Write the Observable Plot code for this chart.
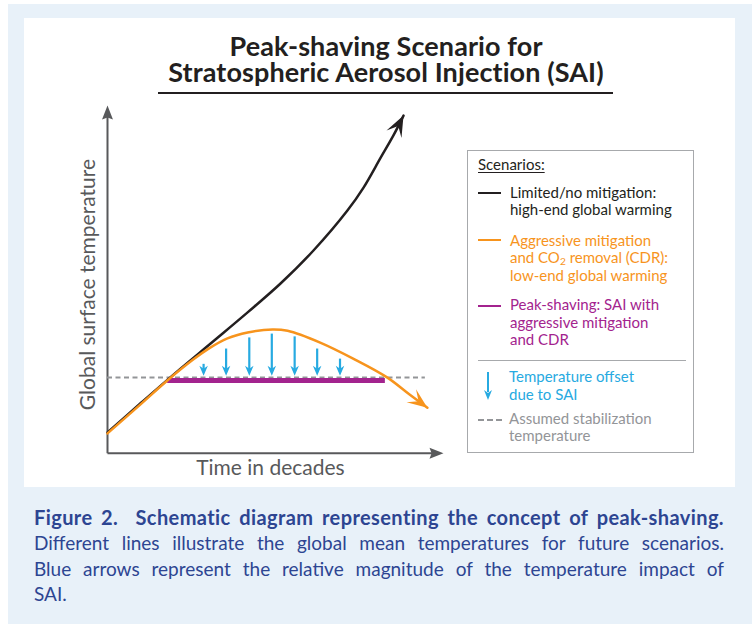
<!DOCTYPE html>
<html>
<head>
<meta charset="utf-8">
<script src="https://cdn.jsdelivr.net/npm/d3@7"></script>
<script src="https://cdn.jsdelivr.net/npm/@observablehq/plot@0.6"></script>
<style>
html,body{margin:0;padding:0;background:#fff;}
body{width:752px;height:624px;position:relative;overflow:hidden;font-family:Lato,"Open Sans",sans-serif;}
#outer{position:absolute;left:8px;top:4px;width:744px;height:620px;background:#e8f1f9;}
#panel{position:absolute;left:24px;top:18px;width:711px;height:469px;background:#fff;}
.title{position:absolute;left:136px;width:500px;height:26px;text-align:center;font-size:27px;font-weight:700;color:#231f20;line-height:26px;letter-spacing:0.1px;white-space:nowrap;}
#titleRule{position:absolute;left:158px;top:92px;width:455px;height:2px;background:#231f20;}
#chart{position:absolute;left:24px;top:95px;}
#legend{position:absolute;left:467px;top:150px;width:225px;height:301px;border:1px solid #a7a9ac;background:#fff;}
.lg{position:absolute;font-size:15px;line-height:17.5px;height:17.5px;white-space:nowrap;}
.sw{position:absolute;height:0;}
sub{font-size:0.68em;vertical-align:-0.18em;line-height:0;}
.cap{position:absolute;left:34px;width:690px;font-size:19px;line-height:25px;color:#2d4592;text-align:justify;text-align-last:justify;white-space:nowrap;}
.cap b{font-size:20px;letter-spacing:0.4px;}
</style>
</head>
<body>
<div id="outer"></div>
<div id="panel"></div>
<div id="titleBox"></div>
<div id="titleRule"></div>
<div id="chart"></div>
<div id="legend"></div>
<div id="caption"></div>
<script>
// ---------- data (schematic values) ----------
const axisMax = 10;
const noMitigationX = [0, 1.0, 2.0, 3.15, 4.17, 5.15, 6.13, 7.14, 7.62, 8.13, 8.51, 8.81];
const noMitigationY = [0.6, 1.45, 2.29, 3.22, 4.05, 4.88, 5.83, 6.98, 7.64, 8.50, 9.14, 9.71];
const mitigationX = [0, 1.0, 1.79, 2.56, 3.0, 3.57, 4.17, 4.91, 5.36, 6.33, 7.31, 8.32, 9.0, 9.52];
const mitigationY = [0.57, 1.42, 2.1, 2.7, 3.0, 3.30, 3.47, 3.56, 3.52, 3.18, 2.72, 2.18, 1.68, 1.31];
const stabilizationTemp = 2.18;
const stabilizationEnd = 9.46;
const peakShavingX = [1.79, 8.27];
const peakShavingY = 2.09;
const offsetX = [2.86, 3.53, 4.22, 4.89, 5.57, 6.24, 6.92];
const offsetTop = [2.57, 3.01, 3.33, 3.44, 3.36, 3.01, 2.72];
const offsetTip = 2.23;

const titleLines = ["Peak-shaving Scenario for", "Stratospheric Aerosol Injection (SAI)"];
const xLabel = "Time in decades";
const yLabel = "Global surface temperature";

const legendEntries = [
  {lines: ["Limited/no mitigation:", "high-end global warming"], color: "#231f20"},
  {lines: ["Aggressive mitigation", "and CO<sub>2</sub> removal (CDR):", "low-end global warming"], color: "#f7941d"},
  {lines: ["Peak-shaving: SAI with", "aggressive mitigation", "and CDR"], color: "#a3238e"},
  {lines: ["Temperature offset", "due to SAI"], color: "#27aae1"},
  {lines: ["Assumed stabilization", "temperature"], color: "#939598"}
];
const captionLines = [
  "<b>Figure 2.&nbsp; Schematic diagram representing the concept of peak-shaving.</b>",
  "Different lines illustrate the global mean temperatures for future scenarios.",
  "Blue arrows represent the relative magnitude of the temperature impact of",
  "SAI."
];

// ---------- colours ----------
const cBlack = "#231f20", cOrange = "#f7941d", cPurple = "#a3238e", cBlue = "#27aae1", cGray = "#939598", cAxis = "#58595b";

// ---------- title ----------
const titleBox = document.getElementById("titleBox");
titleLines.forEach((t, i) => {
  const d = document.createElement("div");
  d.className = "title";
  d.style.top = (33 + i * 26) + "px";
  d.textContent = t;
  titleBox.appendChild(d);
});

// ---------- layout ----------
const svgLeft = 24, svgTop = 95, W = 440, H = 390;
const X0 = 107, X1 = 443, Y0 = 452.7, Y1 = 105;
const kx = (X1 - X0) / axisMax, ky = (Y0 - Y1) / axisMax;

const black = noMitigationX.map((x, i) => ({x, y: noMitigationY[i]}));
const orange = mitigationX.map((x, i) => ({x, y: mitigationY[i]}));
const offsets = offsetX.map((x, i) => ({x, y1: offsetTop[i], y2: offsetTip}));

function angleOf(pts) {
  const a = pts[pts.length - 2], b = pts[pts.length - 1];
  const dx = (b.x - a.x) * kx, dy = -(b.y - a.y) * ky;
  return Math.atan2(dx, -dy) * 180 / Math.PI;
}
function stealth(widthRatio, notch) {
  return {
    draw(ctx, size) {
      const L = Math.sqrt(size / Math.PI), hw = L * widthRatio / 2;
      ctx.moveTo(0, 0);
      ctx.lineTo(hw, L);
      ctx.lineTo(0, L * (1 - notch));
      ctx.lineTo(-hw, L);
      ctx.closePath();
    }
  };
}
function heads(data, len, widthRatio, notch, fill) {
  return Plot.dot(data, {x: "x", y: "y", rotate: "rot", r: len, symbol: stealth(widthRatio, notch), fill, stroke: "none"});
}

const blackEnd = black[black.length - 1], orangeEnd = orange[orange.length - 1];

const plot = Plot.plot({
  width: W, height: H,
  marginLeft: X0 - svgLeft, marginRight: svgLeft + W - X1,
  marginTop: Y1 - svgTop, marginBottom: svgTop + H - Y0,
  x: {domain: [0, axisMax], axis: null},
  y: {domain: [0, axisMax], axis: null},
  style: {background: "transparent", fontFamily: "Lato, 'Open Sans', sans-serif", overflow: "visible"},
  marks: [
    // axes
    Plot.link([{x1: 0, y1: 0, x2: 0, y2: axisMax - 0.2}, {x1: 0, y1: 0, x2: axisMax - 0.2, y2: 0}],
      {x1: "x1", y1: "y1", x2: "x2", y2: "y2", stroke: cAxis, strokeWidth: 2}),
    heads([{x: 0, y: axisMax, rot: 0}, {x: axisMax, y: 0, rot: 90}], 14, 0.78, 0.15, cAxis),
    // stabilization temperature
    Plot.ruleY([stabilizationTemp], {x1: 0, x2: stabilizationEnd, stroke: cGray, strokeWidth: 2, strokeDasharray: "5,3.5"}),
    // peak shaving
    Plot.ruleY([peakShavingY], {x1: peakShavingX[0], x2: peakShavingX[1], stroke: cPurple, strokeWidth: 5}),
    // no mitigation
    Plot.line(black, {x: "x", y: "y", stroke: cBlack, strokeWidth: 2.5, curve: "catmull-rom"}),
    heads([{...blackEnd, rot: angleOf(black)}], 21, 0.8, 0.45, cBlack),
    // aggressive mitigation
    Plot.line(orange, {x: "x", y: "y", stroke: cOrange, strokeWidth: 2.5, curve: "catmull-rom"}),
    heads([{...orangeEnd, rot: angleOf(orange)}], 20, 0.8, 0.45, cOrange),
    // SAI offsets
    Plot.link(offsets, {x1: "x", x2: "x", y1: "y1", y2: d => d.y2 + 0.1, stroke: cBlue, strokeWidth: 2.2}),
    heads(offsets.map(d => ({x: d.x, y: d.y2, rot: 180})), 10, 0.85, 0.3, cBlue),
    // axis labels
    Plot.text([xLabel], {x: 4.85, y: 0, text: d => d, dy: 15, fontSize: 21, fill: cAxis}),
    Plot.text([yLabel], {x: 0, y: 4.85, text: d => d, dx: -19, rotate: -90, fontSize: 21, fill: cAxis})
  ]
});
document.getElementById("chart").appendChild(plot);

// ---------- legend ----------
const legend = document.getElementById("legend");
const L0x = 467, L0y = 150; // legend box origin
const lineStep = 17.5;
function addLg(html, left, top, color, extra) {
  const d = document.createElement("div");
  d.className = "lg";
  d.style.left = (left - L0x - 1) + "px";
  d.style.top = (top - L0y - 1) + "px";
  d.style.color = color;
  d.innerHTML = html;
  if (extra) Object.assign(d.style, extra);
  legend.appendChild(d);
}
addLg("Scenarios:", 478, 155.5, cBlack, {textDecoration: "underline", textUnderlineOffset: "2px"});
const entryTops = [183.5, 231.5, 296, 368, 409.5];
legendEntries.forEach((e, i) => {
  e.lines.forEach((ln, j) => addLg(ln, i >= 3 ? 509 : 510, entryTops[i] + j * lineStep, e.color));
});
function addSwatch(top, color, width, style) {
  const s = document.createElement("div");
  s.className = "sw";
  s.style.left = (478 - L0x - 1) + "px";
  s.style.top = (top - L0y - 1) + "px";
  s.style.width = width + "px";
  s.style.borderTop = `2.5px ${style} ${color}`;
  legend.appendChild(s);
}
addSwatch(192, cBlack, 23, "solid");
addSwatch(239, cOrange, 23, "solid");
addSwatch(305, cPurple, 23, "solid");
addSwatch(419, cGray, 24, "dashed");
// separator
const sep = document.createElement("div");
Object.assign(sep.style, {position: "absolute", left: (478 - L0x - 1) + "px", top: (360 - L0y - 1) + "px", width: "208px", height: "1px", background: "#a7a9ac"});
legend.appendChild(sep);
// legend arrow
const shaft = document.createElement("div");
Object.assign(shaft.style, {position: "absolute", left: (487 - L0x - 1) + "px", top: (372 - L0y - 1) + "px", width: "2px", height: "20px", background: cBlue});
legend.appendChild(shaft);
const tip = document.createElement("div");
Object.assign(tip.style, {position: "absolute", left: (484 - L0x - 1) + "px", top: (390 - L0y - 1) + "px", width: "8px", height: "10px", background: cBlue, clipPath: "polygon(0 0, 50% 30%, 100% 0, 50% 100%)"});
legend.appendChild(tip);

// ---------- caption ----------
const cap = document.getElementById("caption");
captionLines.forEach((t, i) => {
  const d = document.createElement("div");
  d.className = "cap";
  d.style.top = (505 + i * 25.3) + "px";
  if (i === captionLines.length - 1) d.style.textAlignLast = "left";
  d.innerHTML = t;
  cap.appendChild(d);
});
</script>
</body>
</html>
